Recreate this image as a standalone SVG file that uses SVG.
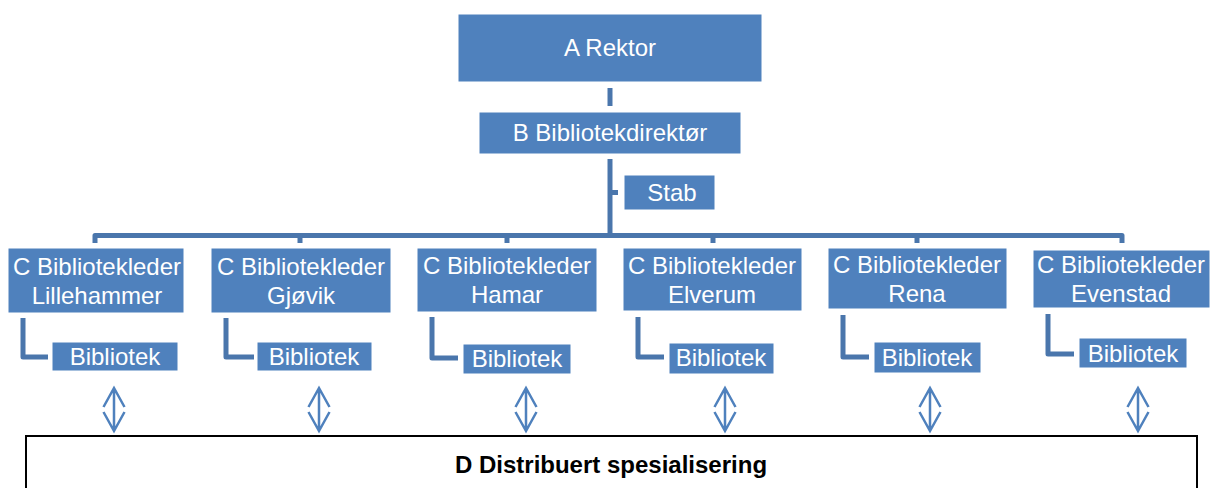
<svg xmlns="http://www.w3.org/2000/svg" width="1211" height="488" viewBox="0 0 1211 488">
<defs>
<style>
.box{fill:#4F81BD;stroke:#FFFFFF;stroke-width:1}
.t{font-family:"Liberation Sans",Arial,sans-serif;font-size:24px;fill:#FFFFFF;text-anchor:middle}
.ln{fill:none;stroke:#4A76AC;stroke-width:5;stroke-linejoin:round}
.ar{fill:none;stroke:#4F81BD;stroke-width:2.5}
.d{font-family:"Liberation Sans",Arial,sans-serif;font-size:24px;font-weight:bold;fill:#000000;text-anchor:middle}
</style>
</defs>
<rect width="1211" height="488" fill="#FFFFFF"/>
<g id="connectors">
<path class="ln" d="M610,88 V106"/>
<path class="ln" d="M610,159 V237"/>
<path class="ln" d="M610,192.5 H618"/>
<path class="ln" d="M95,243 V235.5 H1122 V243"/>
<path class="ln" d="M300,235.5 V243 M507,235.5 V243 M713,235.5 V243 M917,235.5 V243"/>
<path class="ln" d="M23,318 V357 H48"/>
<path class="ln" d="M226,318 V357 H254"/>
<path class="ln" d="M432,317 V358 H458"/>
<path class="ln" d="M638,317 V357 H664"/>
<path class="ln" d="M843,315 V357 H869"/>
<path class="ln" d="M1048,314 V354 H1074"/>
<g id="arrows">
<path class="ar" d="M114,388 V431 M103.5,407 L114,388 L124.5,407 M103.5,412 L114,431 L124.5,412"/>
<path class="ar" d="M319,388 V431 M308.5,407 L319,388 L329.5,407 M308.5,412 L319,431 L329.5,412"/>
<path class="ar" d="M526,388 V431 M515.5,407 L526,388 L536.5,407 M515.5,412 L526,431 L536.5,412"/>
<path class="ar" d="M725,388 V431 M714.5,407 L725,388 L735.5,407 M714.5,412 L725,431 L735.5,412"/>
<path class="ar" d="M930,388 V431 M919.5,407 L930,388 L940.5,407 M919.5,412 L930,431 L940.5,412"/>
<path class="ar" d="M1138,388 V431 M1127.5,407 L1138,388 L1148.5,407 M1127.5,412 L1138,431 L1148.5,412"/>
</g>
</g>
<g id="rektor"><rect class="box" x="458" y="14" width="304" height="68"/><text class="t" x="610" y="56">A Rektor</text></g>
<g id="direktor"><rect class="box" x="479" y="112" width="262" height="42"/><text class="t" x="610" y="141">B Bibliotekdirektør</text></g>
<g id="stab"><rect class="box" x="624" y="175" width="91" height="35"/><text class="t" x="672" y="201">Stab</text></g>
<g id="c-lillehammer"><rect class="box" x="8" y="248" width="176" height="65"/><text class="t" x="97" y="275">C Bibliotekleder</text><text class="t" x="97" y="304">Lillehammer</text></g>
<g id="c-gjovik"><rect class="box" x="211" y="248" width="180" height="65"/><text class="t" x="301" y="275">C Bibliotekleder</text><text class="t" x="301" y="304">Gjøvik</text></g>
<g id="c-hamar"><rect class="box" x="417" y="248" width="180" height="64"/><text class="t" x="507" y="274">C Bibliotekleder</text><text class="t" x="507" y="303">Hamar</text></g>
<g id="c-elverum"><rect class="box" x="623" y="248" width="179" height="63"/><text class="t" x="712" y="274">C Bibliotekleder</text><text class="t" x="712" y="303">Elverum</text></g>
<g id="c-rena"><rect class="box" x="828" y="248" width="179" height="61"/><text class="t" x="917" y="273">C Bibliotekleder</text><text class="t" x="917" y="302">Rena</text></g>
<g id="c-evenstad"><rect class="box" x="1033" y="250" width="177" height="58"/><text class="t" x="1121" y="273">C Bibliotekleder</text><text class="t" x="1121" y="302">Evenstad</text></g>
<g id="bib-lillehammer"><rect class="box" x="52" y="342" width="126" height="29"/><text class="t" x="115" y="365">Bibliotek</text></g>
<g id="bib-gjovik"><rect class="box" x="257" y="342" width="115" height="29"/><text class="t" x="314" y="365">Bibliotek</text></g>
<g id="bib-hamar"><rect class="box" x="463" y="344" width="108" height="30"/><text class="t" x="517" y="367">Bibliotek</text></g>
<g id="bib-elverum"><rect class="box" x="669" y="343" width="105" height="31"/><text class="t" x="721" y="366">Bibliotek</text></g>
<g id="bib-rena"><rect class="box" x="874" y="342" width="107" height="31"/><text class="t" x="927" y="366">Bibliotek</text></g>
<g id="bib-evenstad"><rect class="box" x="1079" y="338" width="108" height="30"/><text class="t" x="1133" y="362">Bibliotek</text></g>
<g id="d-distribuert"><rect x="26" y="436" width="1171" height="80" fill="#FFFFFF" stroke="#000000" stroke-width="2"/><text class="d" x="611" y="473">D Distribuert spesialisering</text></g>
</svg>
